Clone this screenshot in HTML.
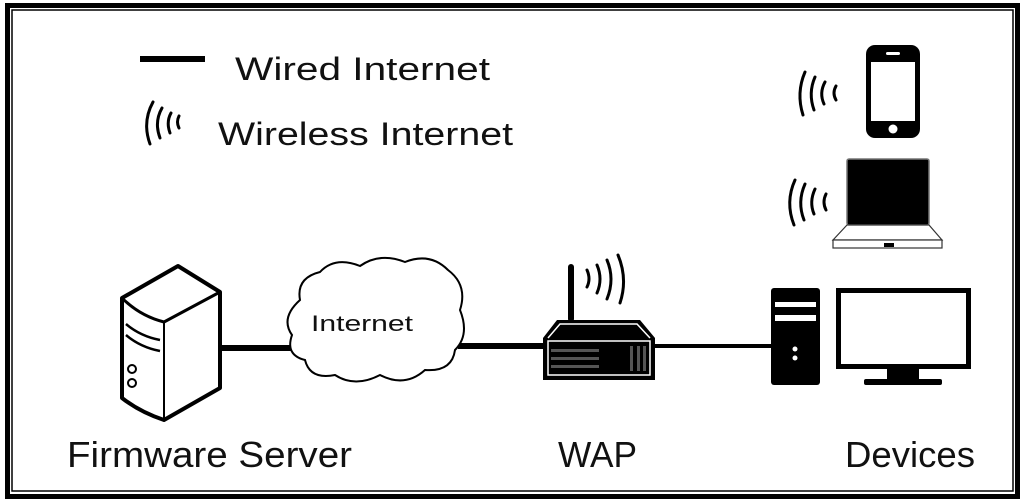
<!DOCTYPE html>
<html><head><meta charset="utf-8"><style>
html,body{margin:0;padding:0;background:#fff;}
svg{display:block;}
text{font-family:"Liberation Sans",sans-serif;fill:#111;}
</style></head><body>
<svg width="1024" height="503" viewBox="0 0 1024 503" xmlns="http://www.w3.org/2000/svg">
<rect x="0" y="0" width="1024" height="503" fill="#fff"/>
<!-- frame -->
<rect x="7.5" y="5.5" width="1010" height="491" fill="none" stroke="#000" stroke-width="5"/>
<rect x="12" y="10" width="1001" height="481" fill="none" stroke="#000" stroke-width="1.5"/>

<!-- legend -->
<rect x="140" y="56" width="65" height="6" fill="#000"/>
<text x="235" y="80" font-size="32" textLength="255" lengthAdjust="spacingAndGlyphs">Wired Internet</text>
<g fill="none" stroke="#000" stroke-width="3" stroke-linecap="round">
<path d="M153 102 Q142 122 150 144"/>
<path d="M162 108 Q154 122 160 138"/>
<path d="M171 113 Q166 122 170 133"/>
<path d="M179 116 Q176 122 179 128"/>
</g>
<text x="218" y="145" font-size="32" textLength="295" lengthAdjust="spacingAndGlyphs">Wireless Internet</text>

<!-- connectors -->
<rect x="220" y="345" width="72" height="6" fill="#000"/>
<rect x="458" y="343" width="88" height="6" fill="#000"/>
<rect x="654" y="344" width="120" height="4" fill="#000"/>

<!-- server -->
<g fill="#fff" stroke="#000" stroke-width="4" stroke-linejoin="round">
<path d="M122 298 L178 266 L220 292 L220 388 L164 420 Q140 412 122 398 Z"/>
</g>
<g fill="none" stroke="#000" stroke-linejoin="round">
<path d="M122 298 Q140 316 164 322 L220 292" stroke-width="3"/>
<path d="M164 322 L164 420" stroke-width="2"/>
<path d="M126 324 Q140 336 160 340" stroke-width="2.5"/>
<path d="M126 335 Q140 347 160 351" stroke-width="2.5"/>
<circle cx="132" cy="369" r="4" stroke-width="2"/>
<circle cx="132" cy="383" r="4" stroke-width="2"/>
</g>

<!-- cloud -->
<path d="M300 300 Q296 278 320 272 Q335 256 360 266 Q380 252 405 262 Q430 252 448 270 Q468 285 460 310 Q470 335 455 350 Q452 372 425 370 Q405 388 380 375 Q355 388 335 375 Q310 380 305 360 Q285 355 292 335 Q280 318 300 300 Z" fill="#fff" stroke="#000" stroke-width="2"/>
<text x="311" y="331" font-size="22" textLength="102" lengthAdjust="spacingAndGlyphs">Internet</text>

<!-- router -->
<rect x="568" y="264" width="6" height="58" rx="3" fill="#000"/>
<g fill="none" stroke="#000" stroke-width="3" stroke-linecap="round">
<path d="M587 270 Q591 279 587 287"/>
<path d="M597 265 Q603 279 597 293"/>
<path d="M607 260 Q615 279 607 299"/>
<path d="M618 255 Q628 279 620 303"/>
</g>
<path d="M543 338 L557 320 L640 320 L655 338 L655 380 L543 380 Z" fill="#000"/>
<path d="M548 338 L560 324 L637 324 L650 338" fill="none" stroke="#fff" stroke-width="1.5"/>
<rect x="548" y="341" width="102" height="34" fill="none" stroke="#fff" stroke-width="1.5"/>
<g fill="#555"><rect x="551" y="349" width="48" height="3"/><rect x="551" y="357" width="48" height="3"/><rect x="551" y="365" width="48" height="3"/>
<rect x="630" y="346" width="3" height="25"/><rect x="637" y="346" width="3" height="25"/><rect x="643" y="346" width="3" height="25"/></g>

<!-- pc tower -->
<rect x="771" y="288" width="49" height="97" rx="3" fill="#000"/>
<rect x="775" y="302" width="41" height="5" fill="#fff"/>
<rect x="775" y="315" width="41" height="6" fill="#fff"/>
<circle cx="795" cy="349" r="2.5" fill="#fff"/><circle cx="795" cy="358" r="2.5" fill="#fff"/>
<!-- monitor -->
<rect x="838.5" y="290.5" width="130" height="76" fill="#fff" stroke="#000" stroke-width="5"/>
<rect x="887" y="368" width="32" height="12" fill="#000"/>
<rect x="864" y="379" width="78" height="6" rx="2" fill="#000"/>

<!-- phone -->
<rect x="866" y="45" width="54" height="93" rx="9" fill="#000"/>
<rect x="871" y="62" width="44" height="59" fill="#fff"/>
<rect x="886" y="52" width="14" height="3" rx="1.5" fill="#fff"/>
<circle cx="893" cy="129" r="4.5" fill="#fff"/>
<g fill="none" stroke="#000" stroke-width="3" stroke-linecap="round">
<path d="M805 72 Q796 93 803 115"/>
<path d="M815 77 Q808 93 814 110"/>
<path d="M825 82 Q819 93 824 104"/>
<path d="M836 86 Q832 93 836 100"/>
</g>

<!-- laptop -->
<rect x="847" y="159" width="82" height="66" rx="2" fill="#000" stroke="#777" stroke-width="1.5"/>
<path d="M847 225 L833 240 L942 240 L929 225 Z" fill="#fff" stroke="#333" stroke-width="1.2"/>
<rect x="833" y="240" width="109" height="8" fill="#fff" stroke="#333" stroke-width="1.2"/>
<rect x="884" y="243" width="10" height="4" fill="#000"/>
<g fill="none" stroke="#000" stroke-width="3" stroke-linecap="round">
<path d="M795 180 Q785 202 794 225"/>
<path d="M805 184 Q797 202 804 220"/>
<path d="M815 189 Q809 202 814 214"/>
<path d="M826 194 Q822 202 826 210"/>
</g>

<!-- labels -->
<text x="67" y="467" font-size="36" textLength="285" lengthAdjust="spacingAndGlyphs">Firmware Server</text>
<text x="558" y="467" font-size="36" textLength="79" lengthAdjust="spacingAndGlyphs">WAP</text>
<text x="845" y="467" font-size="36" textLength="130" lengthAdjust="spacingAndGlyphs">Devices</text>
</svg>
</body></html>
